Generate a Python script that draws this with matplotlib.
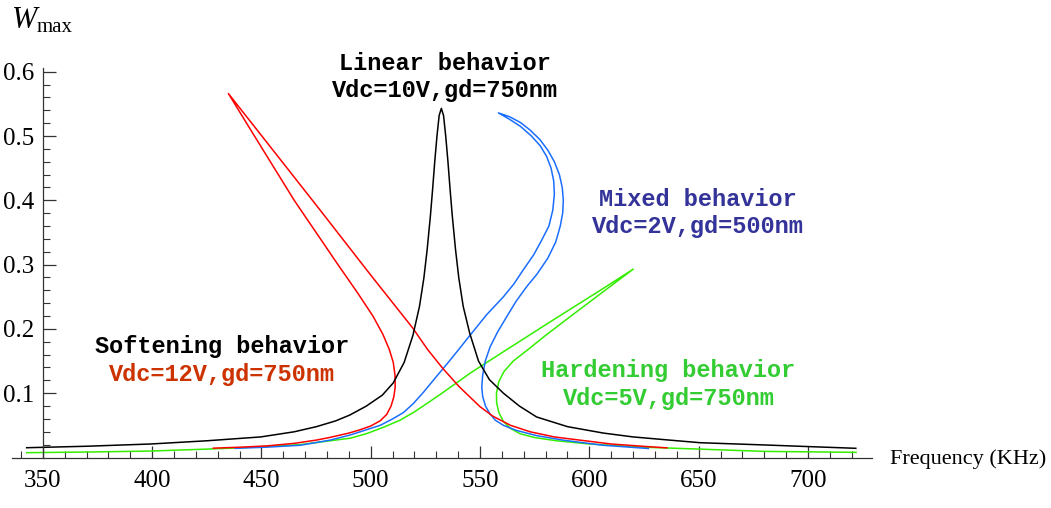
import numpy as np
import matplotlib
matplotlib.use("Agg")
import matplotlib.pyplot as plt
from matplotlib.ticker import FixedLocator

# Linear behavior (Vdc=10V, gd=750nm)
black_f = [342.6, 370, 399.3, 425, 449.7, 465, 475.2, 484, 490.4, 498, 505.3, 510.3, 515.3,
           519.3, 522.3, 524.3, 525.8, 527.3, 528.3, 529.3, 530.3, 531.3, 532.3, 533.3,
           534.3, 535.3, 536.3, 537.3, 538.8, 540.3, 542.3, 545.3, 549.3, 554.3, 560.7,
           568, 575.9, 590, 606.4, 620, 636.9, 650.7, 681, 700, 721.9]
black_w = [0.0152, 0.0175, 0.021, 0.026, 0.032, 0.040, 0.048, 0.057, 0.066, 0.080, 0.097, 0.116, 0.148,
           0.190, 0.235, 0.279, 0.323, 0.376, 0.417, 0.461, 0.500, 0.532, 0.543, 0.532,
           0.500, 0.461, 0.417, 0.376, 0.323, 0.279, 0.235, 0.193, 0.150, 0.121, 0.100,
           0.080, 0.063, 0.048, 0.038, 0.032, 0.027, 0.023, 0.0194, 0.017, 0.0143]

# Softening behavior (Vdc=12V, gd=750nm)
red_f = [428, 440, 452.4, 465, 475, 481, 490, 495, 500, 504.3, 507.3, 509.3, 510.6, 511.2,
         511.1, 510.3, 508.5, 505.5, 501, 494, 485, 475, 465, 455, 445, 434.9,
         453.9, 476.8, 499.7, 519.3, 526, 533.1, 540.5, 545.4, 550, 556, 564, 572.9,
         584, 595.7, 610, 626.3, 635.5]
red_w = [0.0145, 0.016, 0.018, 0.022, 0.027, 0.031, 0.038, 0.043, 0.049, 0.057, 0.067, 0.080, 0.095, 0.110,
         0.128, 0.148, 0.168, 0.192, 0.220, 0.256, 0.300, 0.350, 0.400, 0.455, 0.510, 0.566,
         0.484, 0.385, 0.285, 0.201, 0.168, 0.138, 0.110, 0.094, 0.079, 0.064, 0.050, 0.040,
         0.032, 0.027, 0.021, 0.017, 0.015]

# Mixed behavior (Vdc=2V, gd=500nm)
blue_f = [438, 452, 467.7, 481.4, 490.6, 497, 504.3, 510, 515, 519.5, 524, 528.6, 535, 540,
          545.4, 553, 560.7, 565.5, 569.8, 574.5, 578.2, 581.5, 583.3, 584, 583.7, 582.5,
          580.5, 577.5, 573.5, 568.5, 563.5, 558.4,
          563.5, 568.5, 573, 577.5, 581, 584, 586.3, 587.6, 588.1, 587.8, 586.7, 584.6,
          581, 576, 571.4, 566.5, 562.2, 558, 554.6, 552.4, 551.2, 550.8, 551.2, 552.5,
          554.5, 557, 560.7, 566.8, 575.9, 588, 606.4, 627]
blue_w = [0.0143, 0.016, 0.019, 0.027, 0.035, 0.042, 0.050, 0.060, 0.070, 0.084, 0.101, 0.120, 0.146, 0.167,
          0.190, 0.222, 0.250, 0.270, 0.292, 0.315, 0.338, 0.360, 0.385, 0.410, 0.430, 0.450,
          0.468, 0.485, 0.500, 0.515, 0.526, 0.536,
          0.530, 0.521, 0.509, 0.494, 0.478, 0.460, 0.440, 0.420, 0.400, 0.380, 0.360, 0.335,
          0.310, 0.285, 0.266, 0.243, 0.219, 0.195, 0.172, 0.150, 0.128, 0.110, 0.095, 0.080,
          0.068, 0.058, 0.050, 0.042, 0.034, 0.027, 0.019, 0.014]

# Hardening behavior (Vdc=5V, gd=750nm)
green_f = [342.6, 370, 399, 421.9, 440, 467.7, 481.4, 490.6, 498, 505.8, 513.4, 520, 527, 533,
           540.9, 545.4, 560, 583.5, 605, 620.1,
           606, 591.2, 580, 572, 565.2, 561, 558.6, 557.5, 557.6, 558.6, 560.7, 564, 568.3,
           575, 585, 600, 625, 650.7, 680, 700, 722]
green_w = [0.0075, 0.0085, 0.010, 0.0127, 0.015, 0.020, 0.026, 0.030, 0.037, 0.047, 0.058, 0.071, 0.087, 0.101,
           0.120, 0.131, 0.163, 0.214, 0.260, 0.293,
           0.257, 0.219, 0.190, 0.168, 0.150, 0.134, 0.118, 0.100, 0.085, 0.070, 0.056, 0.045, 0.037,
           0.031, 0.026, 0.021, 0.016, 0.013, 0.0095, 0.0088, 0.008]

x_major = [350, 400, 450, 500, 550, 600, 650, 700]
y_major = [0.1, 0.2, 0.3, 0.4, 0.5, 0.6]

W, H = 1051, 508
fig = plt.figure(figsize=(W / 100, H / 100), dpi=100)
ax = fig.add_axes([12 / W, (H - 457.5) / H, 860 / W, (457.5 - 68) / H])

ax.plot(green_f, green_w, color="#33ee00", lw=1.1)
ax.plot(blue_f, blue_w, color="#1a6eff", lw=1.1)
ax.plot(red_f, red_w, color="#ff0000", lw=1.1)
ax.plot(black_f, black_w, color="black", lw=1.1)

ax.set_xlim(335.9, 729.3)
ax.set_ylim(0, 0.6058)

for s in ["top", "right"]:
    ax.spines[s].set_visible(False)
ax.spines["left"].set_position(("data", 350))
ax.spines["bottom"].set_position(("data", 0))
for s in ["left", "bottom"]:
    ax.spines[s].set_color("#333333")
    ax.spines[s].set_linewidth(0.9)

ax.xaxis.set_major_locator(FixedLocator(x_major))
ax.xaxis.set_minor_locator(FixedLocator([v for v in range(340, 730, 10) if v % 50]))
ax.yaxis.set_major_locator(FixedLocator(y_major))
ax.yaxis.set_minor_locator(FixedLocator([round(v, 2) for v in np.arange(0.02, 0.6, 0.02)
                                         if round(v * 100) % 10]))
ax.set_xticklabels([str(v) for v in x_major])
ax.set_yticklabels(["%.1f" % v for v in y_major])

ax.tick_params(which="major", direction="in", length=9, width=0.9, color="#333333")
ax.tick_params(which="minor", direction="in", length=5, width=0.8, color="#333333")
ax.tick_params(axis="x", which="major", pad=9)
ax.tick_params(axis="y", which="major", pad=6)
for lab in ax.get_xticklabels() + ax.get_yticklabels():
    lab.set_fontfamily("Liberation Serif")
    lab.set_fontsize(18)


def px(x, y):
    return x / W, 1 - y / H


# axis labels
fig.text(*px(12, 21), "W", family="Liberation Serif", style="italic", fontsize=22,
         ha="left", va="center")
fig.text(*px(37, 27), "max", family="Liberation Serif", fontsize=15, ha="left", va="center")
fig.text(*px(890, 459), "Frequency (KHz)", family="Liberation Serif", fontsize=16,
         ha="left", va="center")

# annotations
mono = dict(family="Liberation Mono", weight="bold", fontsize=17, ha="center", va="center")
fig.text(*px(445, 64), "Linear behavior", color="black", **mono)
fig.text(*px(445, 90), "Vdc=10V,gd=750nm", color="black", **mono)
fig.text(*px(698, 200), "Mixed behavior", color="#333399", **mono)
fig.text(*px(698, 227), "Vdc=2V,gd=500nm", color="#333399", **mono)
fig.text(*px(222, 346), "Softening behavior", color="black", **mono)
fig.text(*px(222, 374), "Vdc=12V,gd=750nm", color="#cc3300", **mono)
fig.text(*px(668, 371), "Hardening behavior", color="#33cc33", **mono)
fig.text(*px(669, 398), "Vdc=5V,gd=750nm", color="#33cc33", **mono)

fig.savefig("out.png", dpi=100)
